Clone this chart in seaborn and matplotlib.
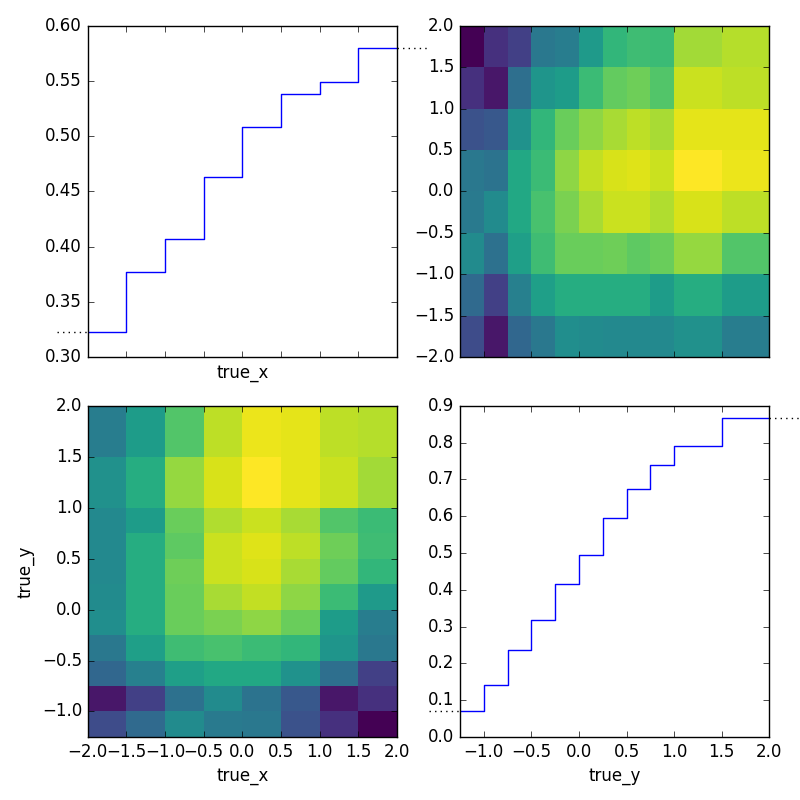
import numpy as np
import pandas as pd
import matplotlib
matplotlib.use("Agg")
import matplotlib.pyplot as plt
from matplotlib.ticker import MultipleLocator
import seaborn as sns

# ---------------- data ----------------
x_edges = [-2.0, -1.5, -1.0, -0.5, 0.0, 0.5, 1.0, 1.5, 2.0]
y_edges = [-1.25, -1.0, -0.75, -0.5, -0.25, 0.0, 0.25, 0.5, 0.75, 1.0, 1.5, 2.0]

# step profiles (one value per bin)
x_profile = [0.3224, 0.3767, 0.4066, 0.4628, 0.5082, 0.5381, 0.5489, 0.5798]
y_profile = [0.0698, 0.1405, 0.2357, 0.3173, 0.4152, 0.4941,
             0.5947, 0.6736, 0.7380, 0.7897, 0.8658]

# joint map: one row per true_y bin (bottom -> top), one column per true_x bin
joint = [
    [0.23, 0.34, 0.48, 0.41, 0.40, 0.25, 0.14, 0.00],
    [0.06, 0.19, 0.37, 0.48, 0.38, 0.27, 0.06, 0.14],
    [0.33, 0.43, 0.56, 0.60, 0.60, 0.51, 0.36, 0.19],
    [0.40, 0.56, 0.69, 0.71, 0.68, 0.66, 0.52, 0.40],
    [0.49, 0.62, 0.77, 0.80, 0.83, 0.77, 0.55, 0.42],
    [0.48, 0.62, 0.77, 0.87, 0.91, 0.83, 0.68, 0.54],
    [0.47, 0.62, 0.78, 0.92, 0.94, 0.87, 0.76, 0.66],
    [0.47, 0.62, 0.75, 0.92, 0.95, 0.90, 0.78, 0.69],
    [0.47, 0.55, 0.77, 0.88, 0.92, 0.87, 0.73, 0.68],
    [0.50, 0.62, 0.84, 0.94, 1.00, 0.96, 0.92, 0.86],
    [0.42, 0.55, 0.73, 0.90, 0.97, 0.96, 0.90, 0.89],
]

# ---------------- build tables ----------------
xe = np.asarray(x_edges)
ye = np.asarray(y_edges)
x_centers = 0.5 * (xe[:-1] + xe[1:])
y_centers = 0.5 * (ye[:-1] + ye[1:])
XX, YY = np.meshgrid(x_centers, y_centers)
joint_arr = np.asarray(joint)
df = pd.DataFrame({"true_x": XX.ravel(), "true_y": YY.ravel(),
                   "value": joint_arr.ravel()})
vmin, vmax = joint_arr.min(), joint_arr.max()

# ---------------- style / figure ----------------
plt.style.use("classic")
plt.rcParams["figure.facecolor"] = "white"
plt.rcParams["savefig.facecolor"] = "white"
plt.rcParams["font.family"] = ["DejaVu Sans"]

fig = plt.figure(figsize=(8, 8), dpi=100)
w, h = 0.3866, 0.414
ax_tl = fig.add_axes([0.1096, 0.5538, w, h])
ax_tr = fig.add_axes([0.5750, 0.5538, w, h])
ax_bl = fig.add_axes([0.1096, 0.0788, w, h])
ax_br = fig.add_axes([0.5750, 0.0788, w, h])

# top-left: profile along true_x
sns.histplot(x=x_centers, weights=x_profile, bins=x_edges, element="step",
             fill=False, color="blue", linewidth=1.0, ax=ax_tl)
ax_tl.set_xlim(-2, 2)
ax_tl.set_ylim(0.30, 0.60)
ax_tl.xaxis.set_major_locator(MultipleLocator(0.5))
ax_tl.yaxis.set_major_locator(MultipleLocator(0.05))
ax_tl.tick_params(labelbottom=False)
ax_tl.set_xlabel("true_x")
ax_tl.set_ylabel("")
ax_tl.axhline(x_profile[0], xmin=-0.1, xmax=0.0, color="k", ls=":", lw=1, clip_on=False)
ax_tl.axhline(x_profile[-1], xmin=1.0, xmax=1.1, color="k", ls=":", lw=1, clip_on=False)

# top-right: transposed joint map (x = true_y, y = true_x)
sns.histplot(data=df, x="true_y", y="true_x", weights="value",
             bins=[y_edges, x_edges], cmap="viridis", thresh=None,
             vmin=vmin, vmax=vmax, ax=ax_tr)
ax_tr.set_xlim(-1.25, 2)
ax_tr.set_ylim(-2, 2)
ax_tr.xaxis.set_major_locator(MultipleLocator(0.5))
ax_tr.yaxis.set_major_locator(MultipleLocator(0.5))
ax_tr.tick_params(labelbottom=False)
ax_tr.set_xlabel("")
ax_tr.set_ylabel("")

# bottom-left: joint map
sns.histplot(data=df, x="true_x", y="true_y", weights="value",
             bins=[x_edges, y_edges], cmap="viridis", thresh=None,
             vmin=vmin, vmax=vmax, ax=ax_bl)
ax_bl.set_xlim(-2, 2)
ax_bl.set_ylim(-1.25, 2)
ax_bl.xaxis.set_major_locator(MultipleLocator(0.5))
ax_bl.yaxis.set_major_locator(MultipleLocator(0.5))
ax_bl.set_xlabel("true_x")
ax_bl.set_ylabel("true_y")

# bottom-right: profile along true_y
sns.histplot(x=y_centers, weights=y_profile, bins=y_edges, element="step",
             fill=False, color="blue", linewidth=1.0, ax=ax_br)
ax_br.set_xlim(-1.25, 2)
ax_br.set_ylim(0.0, 0.9)
ax_br.xaxis.set_major_locator(MultipleLocator(0.5))
ax_br.yaxis.set_major_locator(MultipleLocator(0.1))
ax_br.set_xlabel("true_y")
ax_br.set_ylabel("")
ax_br.axhline(y_profile[0], xmin=-0.1, xmax=0.0, color="k", ls=":", lw=1, clip_on=False)
ax_br.axhline(y_profile[-1], xmin=1.0, xmax=1.1, color="k", ls=":", lw=1, clip_on=False)

fig.savefig("out.png", dpi=100)
